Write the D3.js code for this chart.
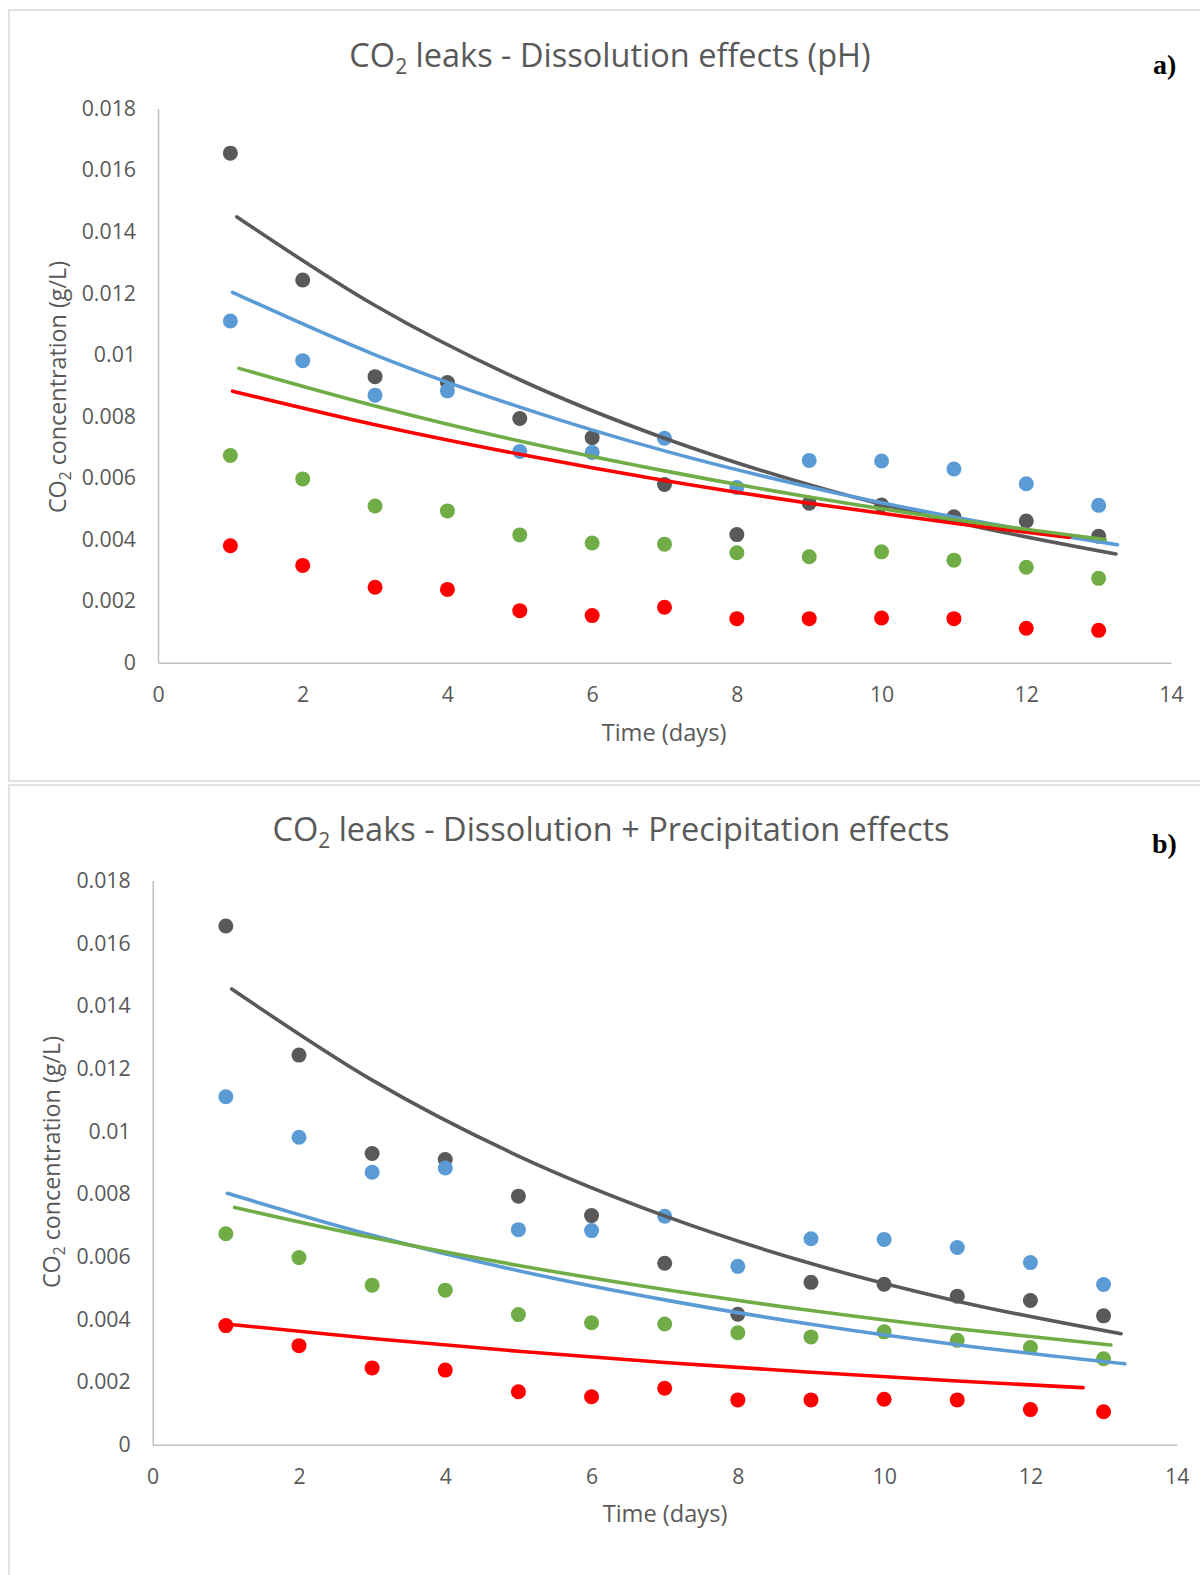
<!DOCTYPE html>
<html>
<head>
<meta charset="utf-8">
<script src="https://cdn.jsdelivr.net/npm/d3@7"></script>
<style>
  body { margin: 0; background: #fff; }
  svg { display: block; }
</style>
</head>
<body>
<svg></svg>
<script>
// measured values (g/L), same in both panels
const days = [1, 2, 3, 4, 5, 6, 7, 8, 9, 10, 11, 12, 13];
const darkPts = [0.01655, 0.01243, 0.00929, 0.0091, 0.00793, 0.00731, 0.00579, 0.00416, 0.00518, 0.00512, 0.00474, 0.0046, 0.00411];
const bluePts = [0.0111, 0.00981, 0.00869, 0.00883, 0.00686, 0.00683, 0.00729, 0.00569, 0.00657, 0.00655, 0.00629, 0.00581, 0.00511];
const greenPts = [0.00673, 0.00597, 0.00509, 0.00493, 0.00415, 0.00389, 0.00385, 0.00357, 0.00344, 0.0036, 0.00333, 0.0031, 0.00274];
const redPts = [0.0038, 0.00316, 0.00245, 0.00238, 0.00169, 0.00153, 0.0018, 0.00143, 0.00143, 0.00145, 0.00143, 0.00112, 0.00105];

// trend lines, panel a
const aDarkX = [1.09, 3, 5, 7, 9, 11, 13.24];
const aDarkY = [0.01448, 0.0116, 0.00919, 0.00729, 0.00578, 0.00458, 0.00353];
const aBlueX = [1.03, 3, 5, 7, 9, 11, 13.26];
const aBlueY = [0.01203, 0.01, 0.0083, 0.00688, 0.00571, 0.00473, 0.00383];
const aGreenX = [1.12, 3, 5, 7, 9, 11, 13.09];
const aGreenY = [0.00956, 0.00834, 0.0072, 0.00623, 0.00538, 0.00465, 0.004];
const aRedX = [1.03, 3, 5, 7, 9, 11, 12.6];
const aRedY = [0.00882, 0.00773, 0.00677, 0.00592, 0.00518, 0.00453, 0.00407];

// trend lines, panel b
const bDarkX = [1.08, 3, 5, 7, 9, 11, 13.24];
const bDarkY = [0.01454, 0.01163, 0.00921, 0.0073, 0.00578, 0.00458, 0.00354];
const bBlueX = [1.02, 3, 5, 7, 9, 11, 13.29];
const bBlueY = [0.00802, 0.00668, 0.00555, 0.00462, 0.00384, 0.00319, 0.00258];
const bGreenX = [1.12, 3, 5, 7, 9, 11, 13.1];
const bGreenY = [0.00757, 0.00661, 0.00572, 0.00495, 0.00428, 0.0037, 0.00318];
const bRedX = [1.0, 3, 5, 7, 9, 11, 12.72];
const bRedY = [0.00385, 0.00339, 0.00298, 0.00262, 0.00231, 0.00203, 0.00182];

const xTicks = [0, 2, 4, 6, 8, 10, 12, 14];
const yTicks = [0, 0.002, 0.004, 0.006, 0.008, 0.01, 0.012, 0.014, 0.016, 0.018];
const yTickLabels = ['0', '0.002', '0.004', '0.006', '0.008', '0.01', '0.012', '0.014', '0.016', '0.018'];

const colors = { dark: '#595959', blue: '#5b9bd5', green: '#70ad47', red: '#ff0000' };

const width = 1200;
const height = 1575;
const sans = "'Open Sans', sans-serif";

const svg = d3.select('svg').attr('width', width).attr('height', height);

const zip = (xs, ys) => xs.map((x, i) => [x, ys[i]]);

const drawPanel = (p) => {
  const g = svg.append('g');

  g.append('rect')
    .attr('x', 9).attr('y', p.top)
    .attr('width', 1200).attr('height', p.boxH)
    .attr('fill', 'none').attr('stroke', '#d9d9d9').attr('stroke-width', 1.5);

  const xScale = d3.scaleLinear().domain([0, 14]).range([p.left, p.right]);
  const yScale = d3.scaleLinear().domain([0, 0.018]).range([p.bottom, p.yTop]);

  const xAxis = d3.axisBottom(xScale).tickValues(xTicks).tickSize(0).tickPadding(24);
  const yAxis = d3.axisLeft(yScale).tickValues(yTicks).tickSize(0).tickPadding(22)
    .tickFormat((d, i) => yTickLabels[i]);

  const gx = g.append('g').attr('transform', 'translate(0,' + p.bottom + ')').call(xAxis);
  const gy = g.append('g').attr('transform', 'translate(' + p.left + ',0)').call(yAxis);
  [gx, gy].forEach((a) => {
    a.select('.domain').attr('stroke', '#bfbfbf').attr('stroke-width', 1.5);
    a.selectAll('text').style('font-size', '21.3px').style('fill', '#595959')
      .style('font-family', sans);
  });

  // points
  const series = [
    [darkPts, colors.dark],
    [bluePts, colors.blue],
    [greenPts, colors.green],
    [redPts, colors.red],
  ];
  series.forEach(([vals, c]) => {
    g.append('g')
      .selectAll('circle')
      .data(days.map((d, i) => [d, vals[i]]))
      .enter()
      .append('circle')
      .attr('cx', (d) => xScale(d[0]))
      .attr('cy', (d) => yScale(d[1]))
      .attr('r', 7.5)
      .attr('fill', c);
  });

  // trend lines
  const line = d3.line()
    .x((d) => xScale(d[0]))
    .y((d) => yScale(d[1]))
    .curve(d3.curveMonotoneX);
  p.trends.forEach(([pts, c]) => {
    g.append('path')
      .attr('d', line(pts))
      .attr('fill', 'none')
      .attr('stroke', c)
      .attr('stroke-width', 3.6)
      .attr('stroke-linecap', 'round');
  });

  // title
  const title = g.append('text')
    .attr('x', p.titleX).attr('y', p.titleY)
    .attr('text-anchor', 'middle')
    .style('font-family', sans).style('fill', '#595959')
    .style('font-size', '32.5px');
  title.append('tspan').text('CO');
  title.append('tspan').style('font-size', '21px').attr('dy', 7).text('2');
  title.append('tspan').attr('dy', -7).text(p.title);

  g.append('text')
    .attr('x', p.labelX).attr('y', p.labelY)
    .style('font-family', "'Liberation Serif', 'DejaVu Serif', serif")
    .style('font-weight', 'bold')
    .style('font-size', '28px')
    .style('fill', '#000')
    .text(p.label);

  g.append('text')
    .attr('x', p.xTitleX).attr('y', p.xTitleY)
    .attr('text-anchor', 'middle')
    .style('font-family', sans).style('fill', '#595959')
    .style('font-size', '23.6px')
    .text('Time (days)');

  const yt = g.append('text')
    .attr('transform', 'translate(' + p.yTitleX + ',' + p.yTitleY + ') rotate(-90)')
    .attr('text-anchor', 'middle')
    .attr('dy', '0.35em')
    .style('font-family', sans).style('fill', '#595959')
    .style('font-size', '23.3px');
  yt.append('tspan').text('CO');
  yt.append('tspan').style('font-size', '15.5px').attr('dy', 5).text('2');
  yt.append('tspan').attr('dy', -5).text(' concentration (g/L)');
};

drawPanel({
  top: 10, boxH: 771,
  left: 158, right: 1171, yTop: 108.5, bottom: 662.7,
  title: ' leaks - Dissolution effects (pH)', titleX: 610, titleY: 67,
  label: 'a)', labelX: 1153, labelY: 74,
  xTitleX: 664, xTitleY: 741,
  yTitleX: 58, yTitleY: 387,
  trends: [
    [zip(aDarkX, aDarkY), colors.dark],
    [zip(aBlueX, aBlueY), colors.blue],
    [zip(aRedX, aRedY), colors.red],
    [zip(aGreenX, aGreenY), colors.green],
  ],
});

drawPanel({
  top: 785, boxH: 800,
  left: 152.7, right: 1176.7, yTop: 880.5, bottom: 1444.7,
  title: ' leaks - Dissolution + Precipitation effects', titleX: 611, titleY: 841,
  label: 'b)', labelX: 1152, labelY: 853,
  xTitleX: 665, xTitleY: 1522,
  yTitleX: 52, yTitleY: 1162,
  trends: [
    [zip(bDarkX, bDarkY), colors.dark],
    [zip(bBlueX, bBlueY), colors.blue],
    [zip(bRedX, bRedY), colors.red],
    [zip(bGreenX, bGreenY), colors.green],
  ],
});
</script>
</body>
</html>
